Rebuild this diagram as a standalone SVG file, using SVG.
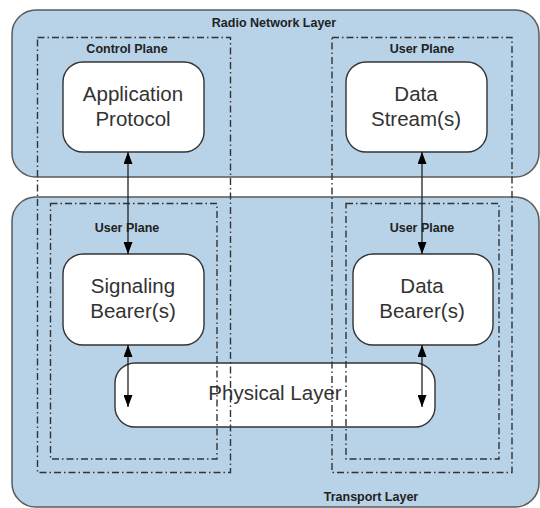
<svg xmlns="http://www.w3.org/2000/svg" width="540" height="508" viewBox="0 0 540 508">
<style>
.layer{fill:#b8d2e7;stroke:#5a5a5a;stroke-width:1.5}
.node{fill:#fff;stroke:#333;stroke-width:1.4}
.plane{fill:none;stroke:#333;stroke-width:1.4;stroke-dasharray:7 3 1.5 3}
.lbl{font-family:"Liberation Sans",Arial,sans-serif;font-weight:bold;font-size:12.5px;fill:#222;text-anchor:middle}
.txt{font-family:"Liberation Sans",Arial,sans-serif;font-size:20.5px;fill:#333;text-anchor:middle}
.conn{stroke:#222;stroke-width:1.3;fill:none}
</style>
<defs>
<marker id="ah" viewBox="0 0 12 9" refX="12" refY="4.5" markerWidth="12" markerHeight="9" markerUnits="userSpaceOnUse" orient="auto-start-reverse">
<path d="M0,0 L12,4.5 L0,9 Z" fill="#000"/>
</marker>
</defs>
<rect width="540" height="508" fill="#fff"/>
<g id="radio-network-layer">
<rect class="layer" x="12" y="10" width="527" height="167" rx="24"/>
<text class="lbl" x="274" y="27">Radio Network Layer</text>
</g>
<g id="transport-layer">
<rect class="layer" x="12" y="197" width="527" height="310" rx="24"/>
<text class="lbl" x="371" y="501">Transport Layer</text>
</g>
<g id="application-protocol">
<rect class="node" x="63" y="62" width="141" height="90" rx="20"/>
<text class="txt" x="133" y="101">Application</text>
<text class="txt" x="133" y="126">Protocol</text>
</g>
<g id="data-streams">
<rect class="node" x="346" y="62" width="141" height="90" rx="20"/>
<text class="txt" x="416" y="101">Data</text>
<text class="txt" x="416" y="126">Stream(s)</text>
</g>
<g id="signaling-bearers">
<rect class="node" x="63" y="254" width="141" height="91" rx="20"/>
<text class="txt" x="133" y="293">Signaling</text>
<text class="txt" x="133" y="318">Bearer(s)</text>
</g>
<g id="data-bearers">
<rect class="node" x="353" y="254" width="140" height="91" rx="20"/>
<text class="txt" x="422" y="293">Data</text>
<text class="txt" x="422" y="318">Bearer(s)</text>
</g>
<g id="physical-layer">
<rect class="node" x="115" y="363" width="320" height="64" rx="20"/>
<text class="txt" x="275" y="400">Physical Layer</text>
</g>
<g id="control-plane">
<rect class="plane" x="37.5" y="37.5" width="193" height="435"/>
<text class="lbl" x="127" y="53">Control Plane</text>
</g>
<g id="user-plane-top">
<rect class="plane" x="332" y="37.5" width="180" height="435"/>
<text class="lbl" x="422" y="53">User Plane</text>
</g>
<g id="user-plane-left">
<rect class="plane" x="50.5" y="203.5" width="166.5" height="255.5"/>
<text class="lbl" x="127" y="232">User Plane</text>
</g>
<g id="user-plane-right">
<rect class="plane" x="346" y="203.5" width="153" height="255.5"/>
<text class="lbl" x="422" y="232">User Plane</text>
</g>
<g id="connectors">
<line class="conn" x1="128" y1="152" x2="128" y2="254" marker-start="url(#ah)" marker-end="url(#ah)"/>
<line class="conn" x1="422" y1="152" x2="422" y2="254" marker-start="url(#ah)" marker-end="url(#ah)"/>
<line class="conn" x1="128" y1="345" x2="128" y2="407" marker-start="url(#ah)" marker-end="url(#ah)"/>
<line class="conn" x1="422" y1="345" x2="422" y2="407" marker-start="url(#ah)" marker-end="url(#ah)"/>
</g>
</svg>
